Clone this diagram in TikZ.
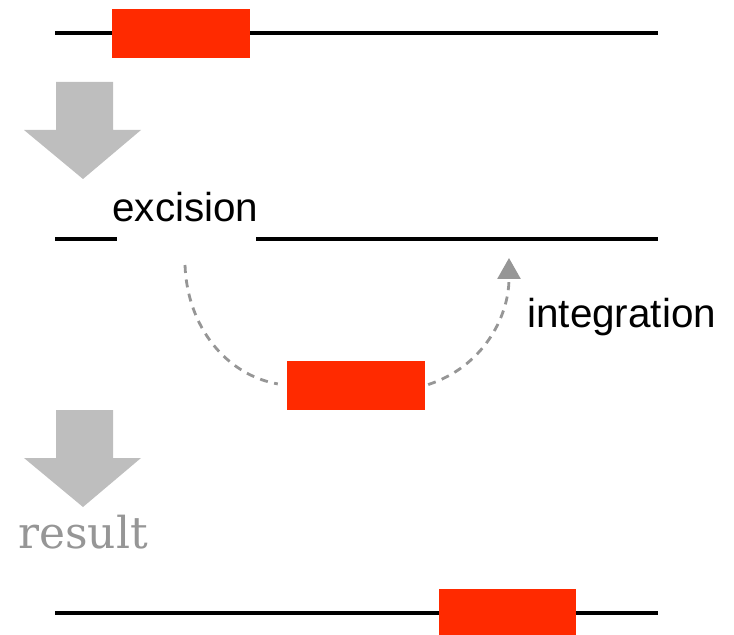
\documentclass[tikz,border=0pt]{standalone}
\usepackage{fontspec}
\setmainfont{Liberation Sans}
\newfontfamily\resultfont{DejaVu Serif}
\usetikzlibrary{arrows.meta}

\definecolor{insred}{RGB}{255,42,0}
\definecolor{stepgray}{RGB}{190,190,190}
\definecolor{pathgray}{RGB}{150,150,150}

\tikzset{
	dna/.style={line width=2.2pt, black},
	insert/.style={rectangle, fill=insred, inner sep=0pt, minimum width=2.76cm, minimum height=0.98cm},
	word/.style={anchor=base west, inner sep=0pt, font=\fontsize{23}{27}\selectfont},
	move/.style={pathgray, line width=1.6pt, dash pattern=on 0.16cm off 0.13cm}
}

\begin{document}
\begin{tikzpicture}[x=0.02cm, y=-0.02cm]
	\useasboundingbox (0, 0) rectangle (734, 635);
	% strand before, with the element in place
	\draw [dna] (55, 33) -- (658, 33);
	\node [insert] (te1) at (181, 33.5) {};
	% big grey step arrows
	\foreach \y in {82, 410}
		\fill [stepgray] (56, \y) -- (113, \y) -- (113, \y+48) -- (141, \y+48)
			-- (83, \y+97) -- (24, \y+48) -- (56, \y+48) -- cycle;
	% strand with the gap left behind
	\node [word] (cut) at (112, 221) {excision};
	\draw [dna] (55, 239) -- (117, 239);
	\draw [dna] (256, 239) -- (658, 239);
	\coordinate (out) at (185, 265);
	\coordinate (land) at (509, 258);
	\node [insert] (te2) at (356, 385.5) {};
	\draw [move, shorten >=0.18cm] (out) to [out=-88, in=170] (te2.west);
	\draw [move, shorten <=0.06cm, -{Triangle[width=0.46cm, length=0.42cm]}] (te2.east) to [out=18, in=-90] (land);
	\node [word] (ins) at (527, 327) {integration};
	\node [word, font=\resultfont\fontsize{25}{29}\selectfont, pathgray] (res) at (18, 548) {result};
	% strand after, element moved
	\draw [dna] (55, 613) -- (658, 613);
	\node [insert] (te3) at (507.5, 613) {};
\end{tikzpicture}
\end{document}
